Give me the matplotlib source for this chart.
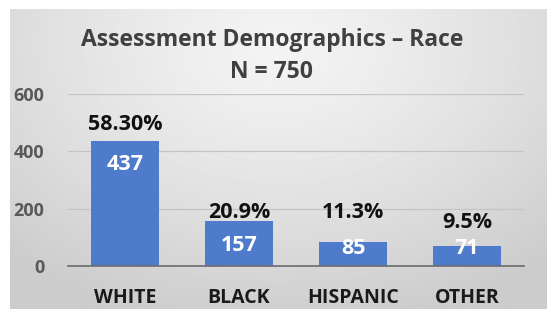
import matplotlib
matplotlib.use('Agg')
import matplotlib.pyplot as plt
import numpy as np

plt.rcParams['font.family'] = ['Open Sans', 'DejaVu Sans']

# Data
categories = ['WHITE', 'BLACK', 'HISPANIC', 'OTHER']
counts = [437, 157, 85, 71]
pct_labels = ['58.30%', '20.9%', '11.3%', '9.5%']

# label placement (data units), set by hand like in the original slide
pct_y = [492, 188, 188, 153]

fig = plt.figure(figsize=(5.47, 3.09), dpi=100)
fig.patch.set_facecolor('#ffffff')

# gray radial gradient panel
bg = fig.add_axes([10/547, 0, 1 - 10/547, 1 - 9/309])
yy, xx = np.mgrid[0:1:200j, 0:1:300j]
r = np.sqrt(((xx - 0.5) / 0.75) ** 2 + ((yy - 0.12) / 0.95) ** 2)
r = np.clip(r, 0, 1)
light, dark = 0.955, 0.80
img = light - (light - dark) * r ** 1.3
bg.imshow(img, cmap='gray', vmin=0, vmax=1, aspect='auto', extent=[0, 1, 1, 0])
bg.set_xlim(0, 1)
bg.set_ylim(1, 0)
bg.axis('off')

ax = fig.add_axes([68/547, 43/309, 456/547, 172/309])
ax.patch.set_alpha(0)
x = np.arange(len(categories))
bars = ax.bar(x, counts, width=0.59, color='#4e7bcc', zorder=3)

ax.set_xlim(-0.5, 3.5)
ax.set_ylim(0, 600)
ax.set_yticks([0, 200, 400, 600])
ax.set_xticks(x)
ax.set_xticklabels(categories, fontsize=14, fontweight='bold', color='#1a1a1a')
ax.tick_params(axis='x', length=0, pad=16)
ax.tick_params(axis='y', length=0, pad=17, labelsize=13, labelcolor='#595959')
for lbl in ax.get_yticklabels():
    lbl.set_fontweight('bold')

for s in ['top', 'right', 'left']:
    ax.spines[s].set_visible(False)
ax.spines['bottom'].set_color('#6b6b6b')
ax.spines['bottom'].set_linewidth(1.2)
ax.spines['bottom'].set_zorder(4)
ax.yaxis.grid(True, color='#c4c4c4', lw=0.9, zorder=1)
ax.set_axisbelow(True)

for i, (c, p, py) in enumerate(zip(counts, pct_labels, pct_y)):
    ax.text(i, py, p, ha='center', va='center', fontsize=15.5, fontweight='bold', color='#111111', zorder=5)
    iy = max(c - 84, 62)
    ax.text(i, iy, str(c), ha='center', va='center', fontsize=15.5, fontweight='bold', color='#ffffff', zorder=5)

fig.text(0.497, 1 - 40/309, 'Assessment Demographics \u2013 Race', ha='center', va='center',
         fontsize=16.5, fontweight='bold', color='#404040')
fig.text(0.497, 1 - 72/309, 'N = 750', ha='center', va='center',
         fontsize=16.5, fontweight='bold', color='#404040')

fig.savefig('out.png', dpi=100)
